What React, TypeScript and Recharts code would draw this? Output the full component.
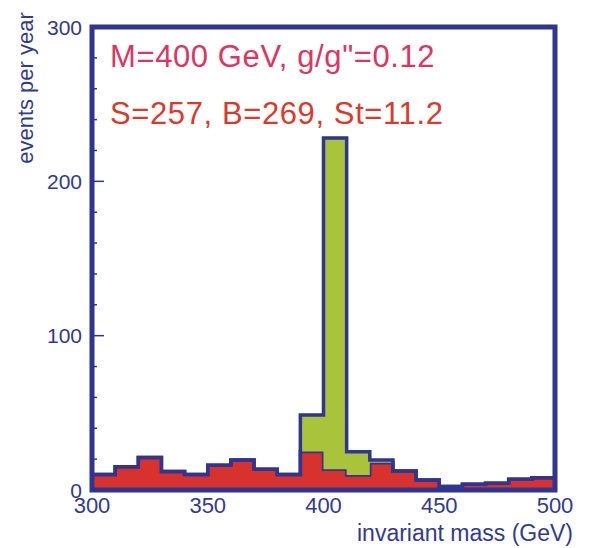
import React from "react";
import { ComposedChart, Area, XAxis, YAxis, ReferenceArea } from "recharts";

const binStarts = [300, 310, 320, 330, 340, 350, 360, 370, 380, 390, 400, 410, 420, 430, 440, 450, 460, 470, 480, 490];
const binEnd = 500;
const background = [10, 15, 21, 12, 10, 16, 19.5, 13.4, 10, 25, 13.4, 9.7, 17.7, 12.3, 6.5, 2.2, 3.7, 4.3, 7, 8];
const signal = [0, 0, 0, 0, 0, 0, 0, 0, 0, 23.6, 214.6, 15.1, 1.7, 0, 0, 0, 0, 0, 0, 0];
const xTicks = [300, 350, 400, 450, 500];
const yTicks = [0, 20, 40, 60, 80, 100, 120, 140, 160, 180, 200, 220, 240, 260, 280, 300];
const yMajor = [0, 100, 200, 300];
const title1 = 'M=400 GeV, g/g"=0.12';
const title2 = "S=257, B=269, St=11.2";

const edges = [...binStarts, binEnd];
const data = edges.map((x, i) => {
  const k = Math.min(i, binStarts.length - 1);
  return { x, bg: background[k], sig: signal[k] };
});

const BLUE = "#2f3590";
const TEXT_BLUE = "#323a8e";
const RED = "#d8322e";
const GREEN = "#a9c33a";
const FONT = "'Liberation Sans', Arial, Helvetica, sans-serif";

const YTick = (props: any) => {
  const { x, y, payload } = props;
  const v = payload.value;
  const major = yMajor.includes(v);
  const axisX = x + 10;
  return (
    <g>
      {v !== 0 && v !== 300 && (
        <line x1={axisX} x2={axisX + (major ? 12 : 5)} y1={y} y2={y} stroke={BLUE} strokeWidth={1.5} />
      )}
      {major && (
        <text x={x} y={y} dy="0.36em" textAnchor="end" fill={TEXT_BLUE} fontSize={21} fontFamily={FONT}>
          {v}
        </text>
      )}
    </g>
  );
};

const XTick = (props: any) => {
  const { x, y, payload } = props;
  return (
    <text x={x} y={y} dy="0.71em" textAnchor="middle" fill={TEXT_BLUE} fontSize={22} fontFamily={FONT}>
      {payload.value}
    </text>
  );
};

export default function App() {
  return (
    <div style={{ position: "absolute", left: 0, top: 0, width: 593, height: 548, background: "#fff" }}>
      <ComposedChart
        width={593}
        height={548}
        data={data}
        margin={{ top: 27, right: 38, left: 0, bottom: 0 }}
      >
        <XAxis
          dataKey="x"
          type="number"
          domain={[300, 500]}
          ticks={xTicks}
          allowDataOverflow
          height={58}
          axisLine={false}
          tickLine={false}
          tickSize={0}
          tickMargin={7}
          tick={<XTick />}
          interval={0}
        />
        <YAxis
          type="number"
          domain={[0, 300]}
          ticks={yTicks}
          allowDataOverflow
          width={92}
          axisLine={false}
          tickLine={false}
          tickSize={0}
          tickMargin={10}
          tick={<YTick />}
          interval={0}
        />
        <Area
          type="stepAfter"
          dataKey="bg"
          stackId="h"
          fill={RED}
          fillOpacity={1}
          stroke={BLUE}
          strokeWidth={3.5}
          isAnimationActive={false}
          dot={false}
          activeDot={false}
        />
        <Area
          type="stepAfter"
          dataKey="sig"
          stackId="h"
          fill={GREEN}
          fillOpacity={1}
          stroke={BLUE}
          strokeWidth={3.5}
          isAnimationActive={false}
          dot={false}
          activeDot={false}
        />
        <ReferenceArea x1={300} x2={500} y1={0} y2={300} fill="none" fillOpacity={0} stroke={BLUE} strokeWidth={5} ifOverflow="visible" />
        <text x={110} y={67} fill="#dc3562" fontSize={31} letterSpacing={0.6} fontFamily={FONT}>
          {title1}
        </text>
        <text x={110} y={124} fill="#d93a2e" fontSize={31} letterSpacing={0.6} fontFamily={FONT}>
          {title2}
        </text>
        <text
          x={0}
          y={0}
          transform="translate(33, 88) rotate(-90)"
          textAnchor="middle"
          fill={TEXT_BLUE}
          fontSize={22}
          fontFamily={FONT}
        >
          events per year
        </text>
        <text x={573} y={541} textAnchor="end" fill={TEXT_BLUE} fontSize={23} fontFamily={FONT}>
          invariant mass (GeV)
        </text>
      </ComposedChart>
    </div>
  );
}
